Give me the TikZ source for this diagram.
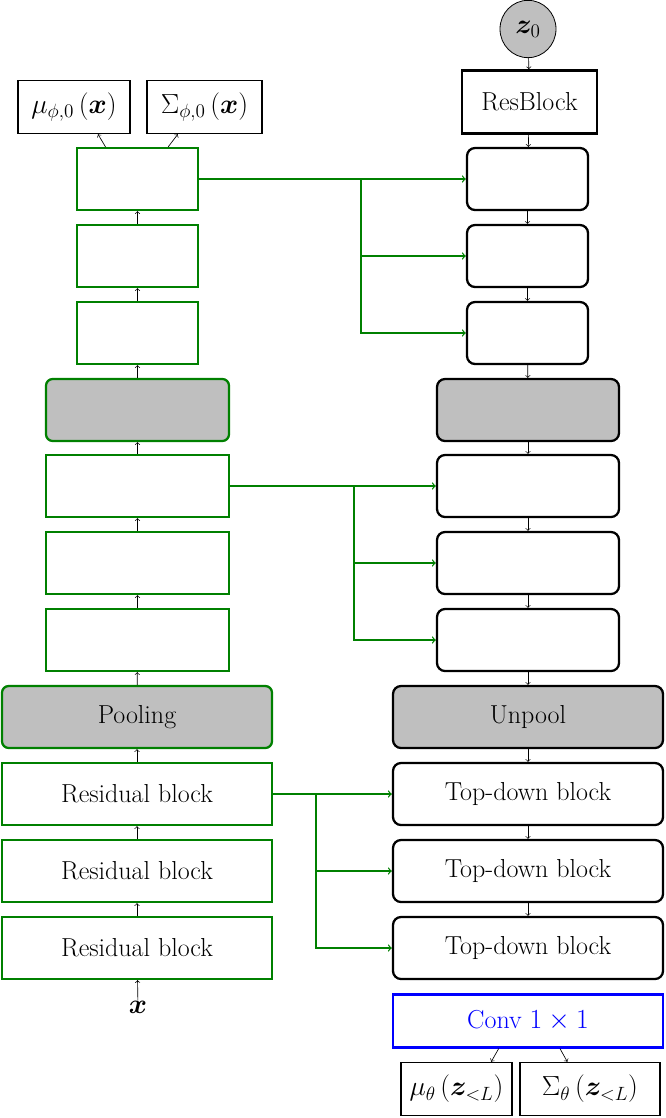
\documentclass[tikz,border=0pt]{standalone}
\usepackage{amsmath,bm}
\usetikzlibrary{shapes.geometric}
\begin{document}
\begin{tikzpicture}[x={(0.75pt,0)},y={(0,-0.75pt)},
  every node/.style={inner sep=0pt,font=\fontsize{19.5}{23}\selectfont},
  enc/.style={draw=green!50!black,line width=1.7pt,rectangle},
  encg/.style={enc,fill=black!25,rounded corners=5pt},
  dec/.style={draw=black,line width=1.7pt,rounded corners=6pt},
  decg/.style={dec,fill=black!25},
  outb/.style={draw=black,line width=1.1pt},
  sm/.style={->,>=to,black,line width=0.5pt},
  gr/.style={->,>=to,green!50!black,line width=1pt}]
\useasboundingbox (0,0) rectangle (665,1118);
\def\nd#1#2#3#4#5#6{\node[#1,minimum width=#4*0.75pt,minimum height=#5*0.75pt] (#2) at #3 {#6};}
% left column
\nd{enc}{l1}{(137.5,179)}{121}{62}{}
\nd{enc}{l2}{(137.5,256)}{121}{62}{}
\nd{enc}{l3}{(137.5,333)}{121}{62}{}
\nd{encg}{l4}{(137.5,410)}{183}{62}{}
\nd{enc}{l5}{(137.5,486)}{183}{62}{}
\nd{enc}{l6}{(137.5,563)}{183}{62}{}
\nd{enc}{l7}{(137.5,640)}{183}{62}{}
\nd{encg}{l8}{(137,717)}{270}{62}{Pooling}
\nd{enc}{l9}{(137,794)}{270}{62}{Residual block}
\nd{enc}{l10}{(137,871)}{270}{62}{Residual block}
\nd{enc}{l11}{(137,948)}{270}{62}{Residual block}
\node (x) at (138,1007) {$\bm{x}$};
\nd{outb}{mu}{(74,107)}{112}{53}{$\mu_{\phi,0}\left(\bm{x}\right)$}
\nd{outb}{sig}{(204.5,107)}{115}{53}{$\Sigma_{\phi,0}\left(\bm{x}\right)$}
% right column
\node[draw=black,line width=0.6pt,fill=black!25,ellipse,minimum width=42pt,minimum height=43pt] (z0) at (528,29) {$\bm{z}_0$};
\nd{outb,line width=2pt}{rb}{(529.5,102)}{135}{63}{ResBlock}
\nd{dec}{r1}{(527.5,179)}{121}{62}{}
\nd{dec}{r2}{(527.5,256)}{121}{62}{}
\nd{dec}{r3}{(527.5,333)}{121}{62}{}
\nd{decg}{r4}{(528,410)}{182}{62}{}
\nd{dec}{r5}{(528,486)}{182}{62}{}
\nd{dec}{r6}{(528,563)}{182}{62}{}
\nd{dec}{r7}{(528,640)}{182}{62}{}
\nd{decg}{r8}{(528,717)}{270}{62}{Unpool}
\nd{dec}{r9}{(528,794)}{270}{62}{Top-down block}
\nd{dec}{r10}{(528,871)}{270}{62}{Top-down block}
\nd{dec}{r11}{(528,948)}{270}{62}{Top-down block}
\nd{draw=blue,line width=1.7pt,text=blue}{cv}{(528,1021)}{270}{53}{Conv $1\times1$}
\nd{outb}{mt}{(456.5,1089)}{111}{53}{$\mu_{\theta}\left(\bm{z}_{<L}\right)$}
\nd{outb}{st}{(590,1089)}{140}{53}{$\Sigma_{\theta}\left(\bm{z}_{<L}\right)$}
% small arrows left
\foreach \a/\b in {x/l11,l11/l10,l10/l9,l9/l8,l8/l7,l7/l6,l6/l5,l5/l4,l4/l3,l3/l2,l2/l1}
  \draw[sm] (\a) -- (\b);
\draw[sm] ([xshift=-24pt]l1.north) -- ([xshift=18pt]mu.south);
\draw[sm] ([xshift=23pt]l1.north) -- ([xshift=-20pt]sig.south);
% small arrows right
\foreach \a/\b in {z0/rb,rb/r1,r1/r2,r2/r3,r3/r4,r4/r5,r5/r6,r6/r7,r7/r8,r8/r9,r9/r10,r10/r11}
  \draw[sm] (\a) -- (\b);
\draw[sm] ([xshift=-22pt]cv.south) -- ([xshift=26pt]mt.north);
\draw[sm] ([xshift=24pt]cv.south) -- ([xshift=-17pt]st.north);
% green connectors
\draw[gr] (l1.east) -- (r1.west);
\draw[gr] (361,179) |- (r2.west);
\draw[gr] (361,179) |- (r3.west);
\draw[gr] (l5.east) -- (r5.west);
\draw[gr] (354,486) |- (r6.west);
\draw[gr] (354,486) |- (r7.west);
\draw[gr] (l9.east) -- (r9.west);
\draw[gr] (316,794) |- (r10.west);
\draw[gr] (316,794) |- (r11.west);
\end{tikzpicture}
\end{document}
